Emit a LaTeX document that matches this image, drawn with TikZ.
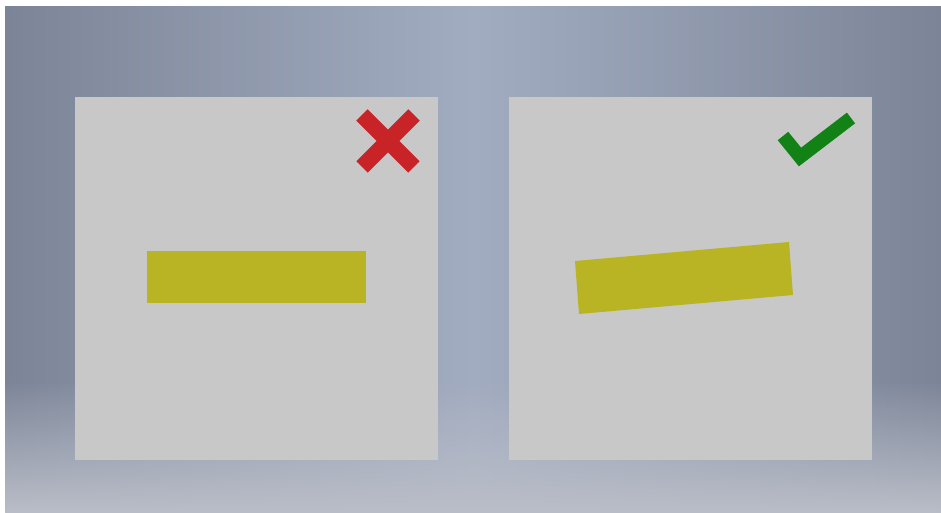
\documentclass[tikz,border=0pt]{standalone}
\usepackage{tikz}
\usetikzlibrary{fadings}

\definecolor{bgdark}{RGB}{124,133,152}
\definecolor{bglight}{RGB}{162,172,192}
\definecolor{bgfloor}{RGB}{186,190,200}
\definecolor{panelgray}{RGB}{200,200,200}
\definecolor{baryellow}{RGB}{185,180,36}
\definecolor{crossred}{RGB}{200,36,40}
\definecolor{tickgreen}{RGB}{18,130,22}

\begin{document}
\begin{tikzpicture}[x=0.02cm,y=-0.02cm,
    panel/.style={fill=panelgray},
    bar/.style={fill=baryellow}]
  \useasboundingbox (0,0) rectangle (941,513);
  \fill[white] (0,0) rectangle (941,513);
  % backdrop
  \shade[left color=bgdark,right color=bgdark,middle color=bglight]
    (5,7) rectangle (941,513);
  \fill[bgfloor,path fading=north] (5,380) rectangle (941,513);
  % wrong: level bar
  \fill[panel] (75,97) rectangle (438,460);
  \fill[bar] (147,251) rectangle (366,303);
  \draw[crossred,line width=0.32cm] (362,115)--(414,167) (362,167)--(414,115);
  % right: tilted bar
  \fill[panel] (509,97) rectangle (872,460);
  \fill[bar] (575,261)--(789,242)--(793,295)--(579,314)--cycle;
  \draw[tickgreen,line width=0.27cm,line join=miter] (783,136)--(800,157)--(851,118);
\end{tikzpicture}
\end{document}
